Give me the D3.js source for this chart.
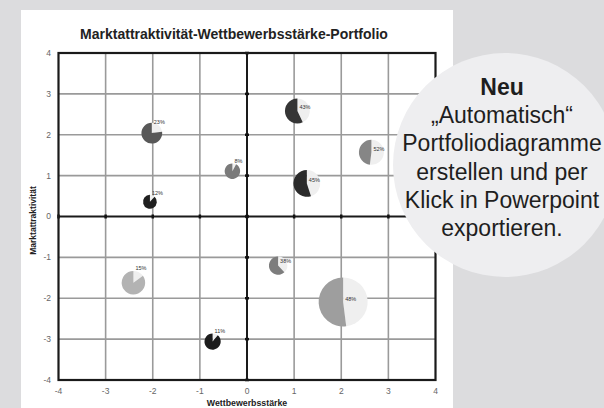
<!DOCTYPE html>
<html>
<head>
<meta charset="utf-8">
<script src="https://cdn.jsdelivr.net/npm/d3@7"></script>
<style>
  html, body { margin: 0; padding: 0; background: #dcdcde; }
  svg { display: block; font-family: "Liberation Sans", Arial, sans-serif; }
</style>
</head>
<body>
<div id="chart"></div>
<script>
// Data
const shares = [23, 12, 8, 43, 45, 52, 38, 48, 15, 11];
const strength = [-2.02, -2.06, -0.31, 1.07, 1.27, 2.64, 0.66, 2.04, -2.41, -0.73];
const attractiveness = [2.04, 0.36, 1.11, 2.58, 0.81, 1.57, -1.20, -2.09, -1.62, -3.06];
const volume = [18, 8, 10, 26, 30, 26, 14, 100, 23, 11];
const ticks = [-4, -3, -2, -1, 0, 1, 2, 3, 4];
const promoLines = ["\u201EAutomatisch\u201C", "Portfoliodiagramme", "erstellen und per", "Klick in Powerpoint", "exportieren."];

// palette for the bubbles (one tone per bubble)
const pieColors = ["#585858", "#1f1f1f", "#7a7a7a", "#353535", "#2b2b2b", "#868686", "#7d7d7d", "#9e9e9e", "#b3b3b3", "#1c1c1c"];

const width = 604, height = 408;

const svg = d3.select("#chart").append("svg")
    .attr("width", width)
    .attr("height", height);

svg.append("rect").attr("width", width).attr("height", height).attr("fill", "#dcdcde");
svg.append("rect")
    .attr("x", 21).attr("y", 10)
    .attr("width", 432).attr("height", height - 10)
    .attr("fill", "#ffffff");

const x = d3.scaleLinear().domain([-4, 4]).range([58.5, 435.5]);
const y = d3.scaleLinear().domain([-4, 4]).range([380, 53]);
const r = d3.scaleSqrt().domain([0, 100]).range([0, 24.5]);

svg.append("text")
    .attr("x", 234).attr("y", 39)
    .attr("text-anchor", "middle")
    .attr("font-size", 14)
    .attr("font-weight", "bold")
    .attr("fill", "#222")
    .text("Marktattraktivität-Wettbewerbsstärke-Portfolio");

// grid
const inner = ticks.filter(t => t !== 0 && Math.abs(t) < 4);
const grid = svg.append("g");
grid.selectAll(".vx")
    .data(inner)
    .join("line")
    .attr("x1", d => x(d)).attr("x2", d => x(d))
    .attr("y1", y(4)).attr("y2", y(-4))
    .attr("stroke", "#9a9a9a").attr("stroke-width", 1.6);
grid.selectAll(".hy")
    .data(inner)
    .join("line")
    .attr("y1", d => y(d)).attr("y2", d => y(d))
    .attr("x1", x(-4)).attr("x2", x(4))
    .attr("stroke", "#9a9a9a").attr("stroke-width", 1.6);

// zero axes
svg.append("line")
    .attr("x1", x(0)).attr("x2", x(0)).attr("y1", y(4)).attr("y2", y(-4))
    .attr("stroke", "#1a1a1a").attr("stroke-width", 2);
svg.append("line")
    .attr("x1", x(-4)).attr("x2", x(4)).attr("y1", y(0)).attr("y2", y(0))
    .attr("stroke", "#1a1a1a").attr("stroke-width", 2);

// small tick marks on the zero axes
svg.append("g").selectAll("line")
    .data(ticks)
    .join("line")
    .attr("x1", x(0) - 2).attr("x2", x(0) + 2)
    .attr("y1", d => y(d)).attr("y2", d => y(d))
    .attr("stroke", "#111").attr("stroke-width", 2.5);
svg.append("g").selectAll("line")
    .data(ticks)
    .join("line")
    .attr("y1", y(0) - 2).attr("y2", y(0) + 2)
    .attr("x1", d => x(d)).attr("x2", d => x(d))
    .attr("stroke", "#111").attr("stroke-width", 2.5);

// frame
svg.append("rect")
    .attr("x", x(-4)).attr("y", y(4))
    .attr("width", x(4) - x(-4)).attr("height", y(-4) - y(4))
    .attr("fill", "none").attr("stroke", "#1a1a1a").attr("stroke-width", 2.2);

// tick labels
svg.append("g").selectAll("text")
    .data(ticks)
    .join("text")
    .attr("x", 51).attr("y", d => y(d))
    .attr("dy", "0.35em")
    .attr("text-anchor", "end")
    .attr("font-size", 8.5).attr("fill", "#666")
    .text(d => d);
svg.append("g").selectAll("text")
    .data(ticks)
    .join("text")
    .attr("x", d => x(d)).attr("y", 391)
    .attr("dy", "0.35em")
    .attr("text-anchor", "middle")
    .attr("font-size", 8.5).attr("fill", "#666")
    .text(d => d);

svg.append("text")
    .attr("x", x(0)).attr("y", 406)
    .attr("text-anchor", "middle")
    .attr("font-size", 8.8).attr("font-weight", "bold").attr("fill", "#222")
    .text("Wettbewerbsstärke");
svg.append("text")
    .attr("transform", `translate(36,${y(0) + 4}) rotate(-90)`)
    .attr("text-anchor", "middle")
    .attr("font-size", 8.5).attr("font-weight", "bold").attr("fill", "#222")
    .text("Marktattraktivität");

// pie bubbles
const bubbles = shares.map((s, i) => ({
    share: s, sx: strength[i], ay: attractiveness[i], size: volume[i], color: pieColors[i]
}));

const pie = d3.pie().sort(null).value(d => d);
const node = svg.append("g").selectAll("g")
    .data(bubbles)
    .join("g")
    .attr("transform", d => `translate(${x(d.sx)},${y(d.ay)})`);

node.each(function(d) {
    const rad = r(d.size);
    const arc = d3.arc().innerRadius(0).outerRadius(rad);
    d3.select(this).selectAll("path")
        .data(pie([d.share, 100 - d.share]))
        .join("path")
        .attr("d", arc)
        .attr("fill", (p, j) => j === 0 ? "#efefef" : d.color);
});

node.append("text")
    .attr("x", 2)
    .attr("y", d => {
        const mid = Math.PI * d.share / 100;
        return -Math.max(3, 1.4 * r(d.size) * Math.cos(mid));
    })
    .attr("dy", "0.35em")
    .attr("font-size", 5.5).attr("fill", "#333")
    .text(d => d.share + "%");

// promo bubble
svg.append("circle")
    .attr("cx", 505).attr("cy", 165).attr("r", 112)
    .attr("fill", "#eeeef0");
svg.append("text")
    .attr("x", 502).attr("y", 95)
    .attr("text-anchor", "middle")
    .attr("font-size", 23).attr("font-weight", "bold").attr("fill", "#1e1e1e")
    .text("Neu");
svg.append("g").selectAll("text")
    .data(promoLines)
    .join("text")
    .attr("x", 502)
    .attr("y", (d, i) => 123.2 + i * 28.2)
    .attr("text-anchor", "middle")
    .attr("font-size", 23).attr("fill", "#1e1e1e")
    .text(d => d);
</script>
</body>
</html>
